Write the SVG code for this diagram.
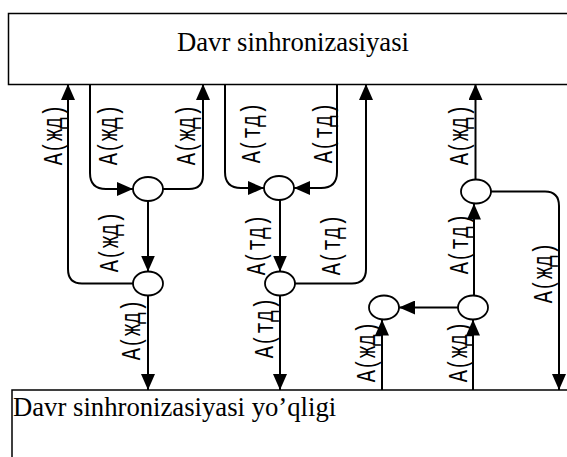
<svg xmlns="http://www.w3.org/2000/svg" width="567" height="457" viewBox="0 0 567 457">
<style>
.box{fill:#fff;stroke:#000;stroke-width:1.5}
.title{font-family:"Liberation Serif","Times New Roman",serif;font-size:26.7px;fill:#000}
.node{fill:#fff;stroke:#000;stroke-width:1.8}
.conn path{fill:none;stroke:#000;stroke-width:2;marker-end:url(#arr)}
.lbl{font-family:"Liberation Mono","Courier New",monospace;font-size:27px;fill:#000;text-anchor:middle}
</style>
<defs>
<marker id="arr" markerUnits="userSpaceOnUse" markerWidth="16" markerHeight="14" refX="16" refY="7" orient="auto">
<path d="M0,0 L16,7 L0,14 z" fill="#000"/>
</marker>
</defs>
<rect width="567" height="457" fill="#fff"/>
<g id="top-box">
<rect class="box" x="8.5" y="13.5" width="570" height="71"/>
<text class="title" x="177" y="50.5">Davr sinhronizasiyasi</text>
</g>
<g id="bottom-box">
<rect class="box" x="12" y="390" width="570" height="90"/>
<text class="title" x="13" y="416">Davr sinhronizasiyasi yo’qligi</text>
</g>
<g id="n1"><ellipse class="node" cx="148" cy="189" rx="15" ry="12"/></g>
<g id="n2"><ellipse class="node" cx="148" cy="283.5" rx="15" ry="12"/></g>
<g id="n3"><ellipse class="node" cx="279" cy="188" rx="15" ry="12"/></g>
<g id="n4"><ellipse class="node" cx="280" cy="283.5" rx="15" ry="12"/></g>
<g id="n5"><ellipse class="node" cx="476" cy="191.5" rx="15" ry="12"/></g>
<g id="n6"><ellipse class="node" cx="473" cy="307.5" rx="15" ry="12"/></g>
<g id="n7"><ellipse class="node" cx="384" cy="307.5" rx="15" ry="12"/></g>
<g id="connectors" class="conn">
<path d="M133,283.5 H82 Q68,283.5 68,269 V84"/>
<path d="M90,84 V173 Q90,189 106,189 H133"/>
<path d="M163,189 H189 Q203,189 203,175 V84"/>
<path d="M148,201 V271.5"/>
<path d="M148,295.5 V390"/>
<path d="M225,84 V172 Q225,188 241,188 H264"/>
<path d="M337,84 V172 Q337,188 321,188 H294"/>
<path d="M280,200 V271.5"/>
<path d="M295,283.5 H352 Q366,283.5 366,269 V84"/>
<path d="M280,295.5 V390"/>
<path d="M475.5,179.5 V84"/>
<path d="M491,191.5 H545 Q559,191.5 559,206 V390"/>
<path d="M474,295.5 V203.5"/>
<path d="M458,307.5 H399"/>
<path d="M382,390 V319.5"/>
<path d="M473,390 V319.5"/>
</g>
<g id="labels">
<text class="lbl" transform="translate(62,135) rotate(-90) scale(0.75,1)">А(жд)</text>
<text class="lbl" transform="translate(117,135) rotate(-90) scale(0.75,1)">А(жд)</text>
<text class="lbl" transform="translate(195,135) rotate(-90) scale(0.75,1)">А(жд)</text>
<text class="lbl" transform="translate(118,242) rotate(-90) scale(0.75,1)">А(жд)</text>
<text class="lbl" transform="translate(140,330) rotate(-90) scale(0.75,1)">А(жд)</text>
<text class="lbl" transform="translate(260,133) rotate(-90) scale(0.75,1)">А(тд)</text>
<text class="lbl" transform="translate(332,133) rotate(-90) scale(0.75,1)">А(тд)</text>
<text class="lbl" transform="translate(265,245) rotate(-90) scale(0.75,1)">А(тд)</text>
<text class="lbl" transform="translate(340,245) rotate(-90) scale(0.75,1)">А(тд)</text>
<text class="lbl" transform="translate(273,328) rotate(-90) scale(0.75,1)">А(тд)</text>
<text class="lbl" transform="translate(468,135) rotate(-90) scale(0.75,1)">А(жд)</text>
<text class="lbl" transform="translate(468,244) rotate(-90) scale(0.75,1)">А(тд)</text>
<text class="lbl" transform="translate(552,273) rotate(-90) scale(0.75,1)">А(жд)</text>
<text class="lbl" transform="translate(375,352) rotate(-90) scale(0.75,1)">А(жд)</text>
<text class="lbl" transform="translate(467,352) rotate(-90) scale(0.75,1)">А(жд)</text>
</g>
</svg>
